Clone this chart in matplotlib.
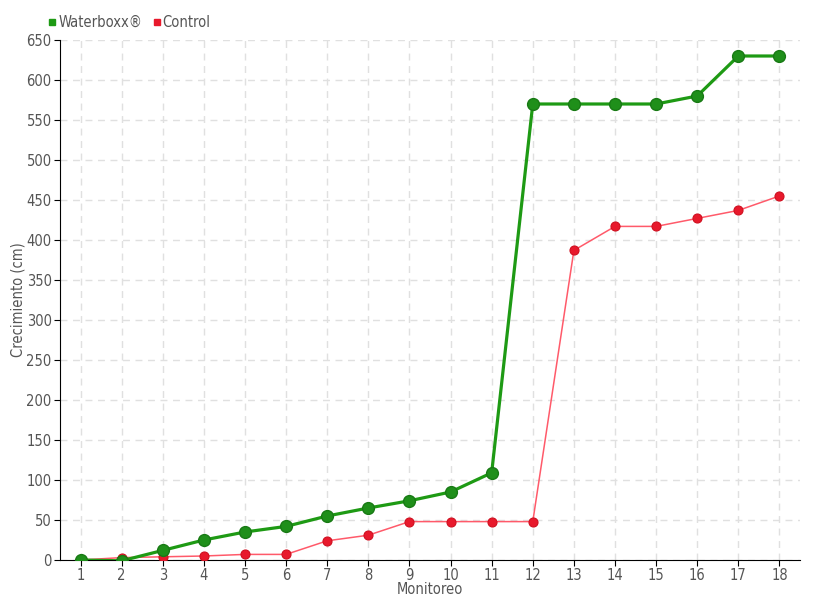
import matplotlib
matplotlib.use("Agg")
import matplotlib.pyplot as plt
from matplotlib.lines import Line2D

monitoreo = list(range(1, 19))
waterboxx = [0, -1, 12, 25, 35, 42, 55, 65, 74, 85, 109, 570, 570, 570, 570, 580, 630, 630]
control = [0, 3, 4, 5, 7, 7, 24, 31, 48, 48, 48, 48, 387, 417, 417, 427, 437, 455]

green = '#1e9a14'
red = '#e8192c'
txt = '#555555'

plt.rcParams['font.family'] = ['DejaVu Sans']
plt.rcParams['font.stretch'] = 'condensed'

fig = plt.figure(figsize=(8.2, 6.0), dpi=100)
ax = fig.add_axes([60/820, 40/600, 740/820, 520/600])

ax.plot(monitoreo, control, color='#ff5a6a', lw=1.1, zorder=3)
ax.plot(monitoreo, control, 'o', color=red, ms=6.5, mec='#d01020', mew=0.8, zorder=4)
ax.plot(monitoreo, waterboxx, color=green, lw=2.3, zorder=5)
ax.plot(monitoreo, waterboxx, 'o', color='#1f8f1a', ms=8.5, mec='#187a14', mew=1, zorder=6)

ax.set_xlim(0.5, 18.5)
ax.set_ylim(0, 650)
ax.set_xticks(monitoreo)
ax.set_yticks(range(0, 651, 50))
ax.grid(True, color='#e0e0e0', ls=(0, (5, 4)), lw=1)
ax.set_axisbelow(True)
for s in ['top', 'right']:
    ax.spines[s].set_visible(False)
ax.spines['left'].set_color('black')
ax.spines['bottom'].set_color('black')
ax.tick_params(colors='black', labelcolor=txt, labelsize=10.5, length=4, pad=2)
ax.set_xlabel('Monitoreo', color=txt, fontsize=10.5, labelpad=-1)
ax.set_ylabel('Crecimiento (cm)', color=txt, fontsize=10.5, labelpad=1)

handles = [Line2D([], [], marker='s', ls='', color=green, ms=4),
           Line2D([], [], marker='s', ls='', color=red, ms=4)]
fig.legend(handles, ['Waterboxx®', 'Control'], loc='upper left',
           bbox_to_anchor=(45/820, 1 - 15/600), ncol=2, frameon=False,
           handlelength=1.0, handletextpad=-0.1, columnspacing=0.5,
           labelcolor=txt, fontsize=10.5, borderaxespad=0, borderpad=0)

fig.savefig('out.png', dpi=100)
